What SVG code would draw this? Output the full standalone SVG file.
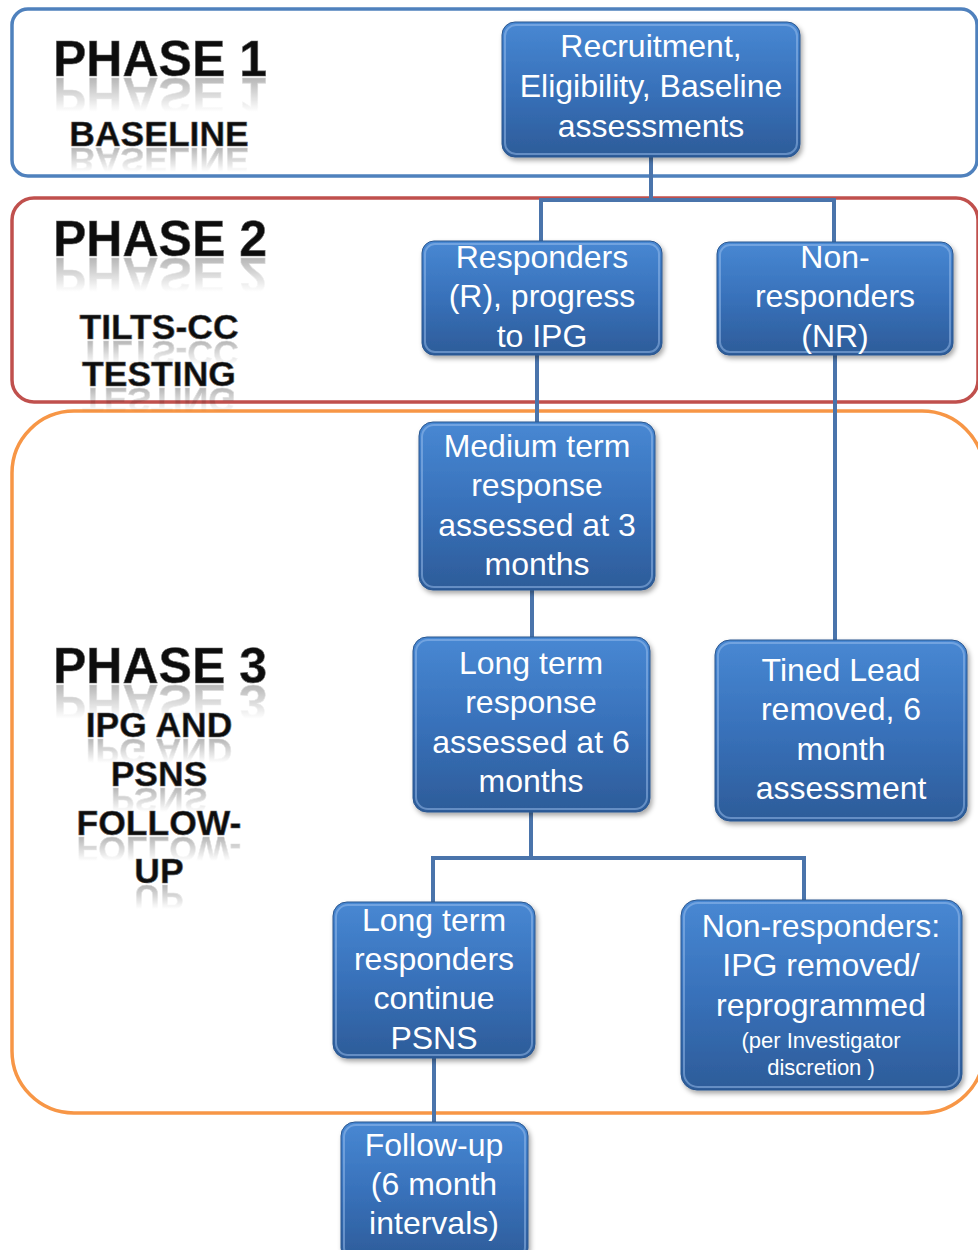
<svg xmlns="http://www.w3.org/2000/svg" xmlns:xlink="http://www.w3.org/1999/xlink" width="978" height="1250" viewBox="0 0 978 1250">
<style>
.phase{fill:none;stroke-width:3.5}
.box{fill:url(#boxg);stroke:#2a568f;stroke-width:1;filter:url(#sh)}
.hl{fill:none;stroke:#9cc0ee;stroke-opacity:0.5;stroke-width:2}
.t{font-family:"Liberation Sans",Arial,sans-serif;font-size:32px;fill:#fff;text-anchor:middle}
.ts{font-size:22px}
.pl{font-family:"Liberation Sans",Arial,sans-serif;font-weight:bold;fill:#0d0d0d;stroke:#6b6b6b;stroke-width:0.6;text-anchor:middle}
.big{font-size:50px}
.mid{font-size:35.5px}
.con{fill:none;stroke:#4a74ab;stroke-width:4}
</style>
<defs>
<linearGradient id="boxg" x1="0" y1="0" x2="0" y2="1">
<stop offset="0" stop-color="#4888d3"/>
<stop offset="0.5" stop-color="#3871ba"/>
<stop offset="1" stop-color="#2d5c99"/>
</linearGradient>
<linearGradient id="fade" x1="0" y1="0" x2="0" y2="1">
<stop offset="0" stop-color="#fff" stop-opacity="0.4"/>
<stop offset="0.8" stop-color="#fff" stop-opacity="0"/>
</linearGradient>
<mask id="rm" maskContentUnits="objectBoundingBox">
<rect x="0" y="0" width="1" height="1" fill="url(#fade)"/>
</mask>
<filter id="sh" x="-10%" y="-10%" width="125%" height="130%">
<feDropShadow dx="2" dy="3" stdDeviation="2.5" flood-color="#000" flood-opacity="0.35"/>
</filter>
</defs>

<g id="phases">
<rect class="phase" x="12" y="9" width="965" height="167" rx="16" stroke="#4f81bd"/>
<rect class="phase" x="12" y="198" width="966" height="204" rx="22" stroke="#c0504d"/>
<rect class="phase" x="12" y="411" width="972" height="702" rx="62" stroke="#f79646"/>
</g>

<g id="phase-labels">
<text id="p1" class="pl big" x="160" y="76">PHASE 1</text>
<text id="p1b" class="pl mid" x="159" y="146">BASELINE</text>
<text id="p2" class="pl big" x="160" y="256">PHASE 2</text>
<text id="p2b" class="pl mid" x="159" y="339">TILTS-CC</text>
<text id="p2c" class="pl mid" x="159" y="386">TESTING</text>
<text id="p3" class="pl big" x="160" y="683">PHASE 3</text>
<text id="p3b" class="pl mid" x="159" y="737">IPG AND</text>
<text id="p3c" class="pl mid" x="159" y="786">PSNS</text>
<text id="p3d" class="pl mid" x="159" y="835">FOLLOW-</text>
<text id="p3e" class="pl mid" x="159" y="883">UP</text>
</g>
<g id="reflections">
<g mask="url(#rm)"><use xlink:href="#p1" transform="translate(0,154) scale(1,-1)"/></g>
<g mask="url(#rm)"><use xlink:href="#p1b" transform="translate(0,294) scale(1,-1)"/></g>
<g mask="url(#rm)"><use xlink:href="#p2" transform="translate(0,514) scale(1,-1)"/></g>
<g mask="url(#rm)"><use xlink:href="#p2b" transform="translate(0,680) scale(1,-1)"/></g>
<g mask="url(#rm)"><use xlink:href="#p2c" transform="translate(0,774) scale(1,-1)"/></g>
<g mask="url(#rm)"><use xlink:href="#p3" transform="translate(0,1368) scale(1,-1)"/></g>
<g mask="url(#rm)"><use xlink:href="#p3b" transform="translate(0,1476) scale(1,-1)"/></g>
<g mask="url(#rm)"><use xlink:href="#p3c" transform="translate(0,1574) scale(1,-1)"/></g>
<g mask="url(#rm)"><use xlink:href="#p3d" transform="translate(0,1672) scale(1,-1)"/></g>
<g mask="url(#rm)"><use xlink:href="#p3e" transform="translate(0,1768) scale(1,-1)"/></g>
</g>

<g id="connectors">
<path class="con" d="M651,157 V200 M539,200 H836 M541,200 V241 M834,200 V242"/>
<path class="con" d="M537,355 V422"/>
<path class="con" d="M532,590 V637"/>
<path class="con" d="M835,355 V640"/>
<path class="con" d="M531,812 V858 M431,858 H806 M433,858 V902 M804,858 V900"/>
<path class="con" d="M434,1058 V1122"/>
</g>

<g id="n-recruit">
<rect class="box" x="502" y="22" width="298" height="135" rx="13"/>
<rect class="hl" x="505" y="25" width="292" height="129" rx="11"/>
<text class="t"><tspan x="651" y="57">Recruitment,</tspan><tspan x="651" y="97">Eligibility, Baseline</tspan><tspan x="651" y="137">assessments</tspan></text>
</g>
<g id="n-responders">
<rect class="box" x="422" y="241" width="240" height="114" rx="12"/>
<rect class="hl" x="425" y="244" width="234" height="108" rx="10"/>
<text class="t"><tspan x="542" y="268">Responders</tspan><tspan x="542" y="307">(R), progress</tspan><tspan x="542" y="347">to IPG</tspan></text>
</g>
<g id="n-nonresp">
<rect class="box" x="717" y="242" width="236" height="113" rx="12"/>
<rect class="hl" x="720" y="245" width="230" height="107" rx="10"/>
<text class="t"><tspan x="835" y="268">Non-</tspan><tspan x="835" y="307">responders</tspan><tspan x="835" y="347">(NR)</tspan></text>
</g>
<g id="n-medium">
<rect class="box" x="419" y="422" width="236" height="168" rx="14"/>
<rect class="hl" x="422" y="425" width="230" height="162" rx="12"/>
<text class="t"><tspan x="537" y="457">Medium term</tspan><tspan x="537" y="496">response</tspan><tspan x="537" y="536">assessed at 3</tspan><tspan x="537" y="575">months</tspan></text>
</g>
<g id="n-long">
<rect class="box" x="413" y="637" width="237" height="175" rx="14"/>
<rect class="hl" x="416" y="640" width="231" height="169" rx="12"/>
<text class="t"><tspan x="531" y="674">Long term</tspan><tspan x="531" y="713">response</tspan><tspan x="531" y="753">assessed at 6</tspan><tspan x="531" y="792">months</tspan></text>
</g>
<g id="n-tined">
<rect class="box" x="715" y="640" width="252" height="181" rx="15"/>
<rect class="hl" x="718" y="643" width="246" height="175" rx="13"/>
<text class="t"><tspan x="841" y="681">Tined Lead</tspan><tspan x="841" y="720">removed, 6</tspan><tspan x="841" y="760">month</tspan><tspan x="841" y="799">assessment</tspan></text>
</g>
<g id="n-ltr">
<rect class="box" x="333" y="902" width="202" height="156" rx="14"/>
<rect class="hl" x="336" y="905" width="196" height="150" rx="12"/>
<text class="t"><tspan x="434" y="931">Long term</tspan><tspan x="434" y="970">responders</tspan><tspan x="434" y="1009">continue</tspan><tspan x="434" y="1049">PSNS</tspan></text>
</g>
<g id="n-nripg">
<rect class="box" x="681" y="900" width="281" height="190" rx="16"/>
<rect class="hl" x="684" y="903" width="275" height="184" rx="14"/>
<text class="t"><tspan x="821" y="937">Non-responders:</tspan><tspan x="821" y="976">IPG removed/</tspan><tspan x="821" y="1016">reprogrammed</tspan><tspan class="ts" x="821" y="1048">(per Investigator</tspan><tspan class="ts" x="821" y="1075">discretion )</tspan></text>
</g>
<g id="n-followup">
<rect class="box" x="341" y="1122" width="187" height="140" rx="14"/>
<rect class="hl" x="344" y="1125" width="181" height="134" rx="12"/>
<text class="t"><tspan x="434" y="1156">Follow-up</tspan><tspan x="434" y="1195">(6 month</tspan><tspan x="434" y="1234">intervals)</tspan></text>
</g>
</svg>
